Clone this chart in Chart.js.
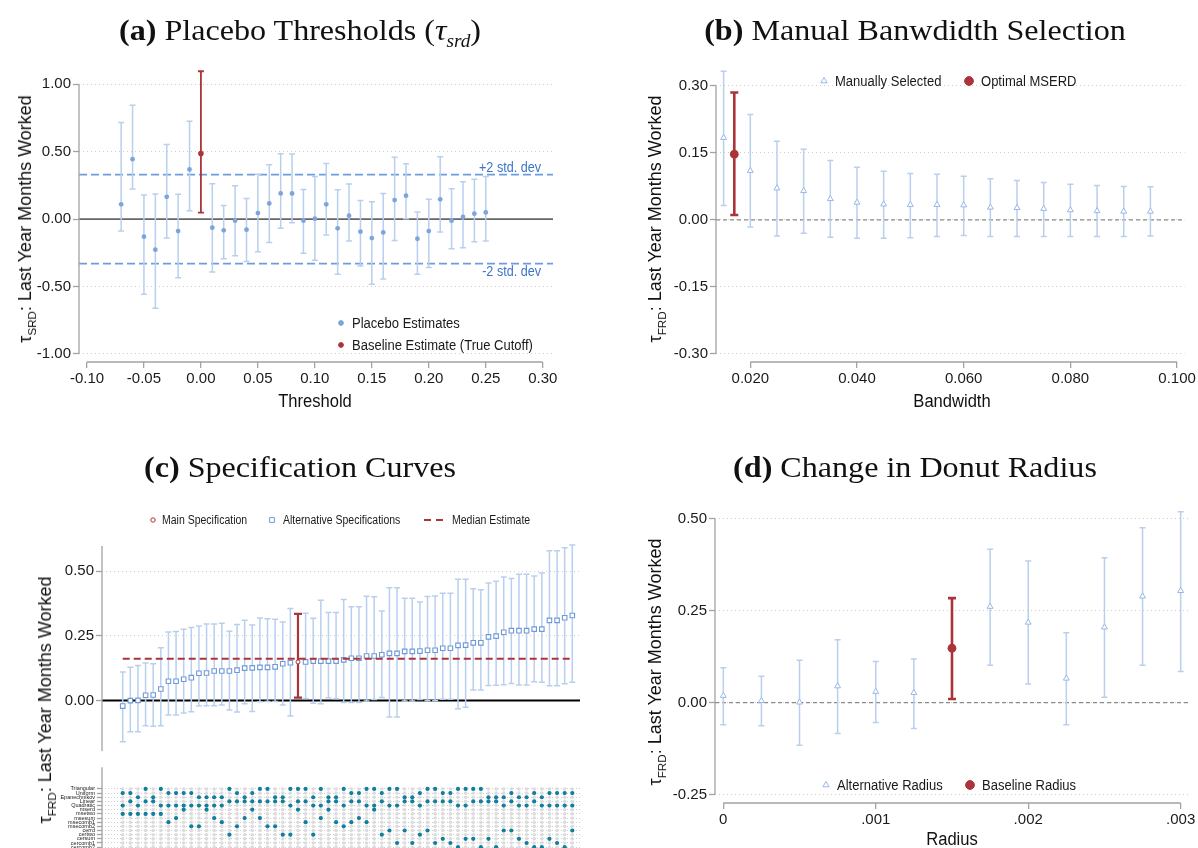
<!DOCTYPE html>
<html lang="en">
<head>
<meta charset="UTF-8">
<title>RD robustness checks</title>
<script src="https://cdn.jsdelivr.net/npm/chart.js"></script>
<style>
  body { margin: 0; background: #fff; }
  #page { position: relative; width: 1198px; height: 848px; overflow: hidden; }
  canvas { position: absolute; }
  .ttl { position: absolute; width: 600px; margin-left: -300px; text-align: center; white-space: nowrap; z-index: 2;
         font-family: "Liberation Serif", "DejaVu Serif", serif; font-size: 30px; line-height: 36px; color: #111;
         transform: scaleX(1.07); }
  .ttl sub { font-size: 0.6em; line-height: 0; }
  .axt { position: absolute; white-space: nowrap; z-index: 2; color: #111;
         font-family: "Liberation Sans", Arial, sans-serif; font-size: 18px; line-height: 22px;
         transform: translate(-50%, -50%) scaleX(0.92); }
  .axt.rot { transform: translate(-50%, -50%) rotate(-90deg); }
  .axt sub { font-size: 0.65em; line-height: 0; }
</style>
</head>
<body>
<div id="page">
  <div class="ttl" style="left:300px;top:12px"><b>(a)</b> Placebo Thresholds (<i>τ<sub>srd</sub></i>)</div>
  <div class="ttl" style="left:915px;top:12px"><b>(b)</b> Manual Banwdidth Selection</div>
  <div class="ttl" style="left:300px;top:449px"><b>(c)</b> Specification Curves</div>
  <div class="ttl" style="left:915px;top:449px"><b>(d)</b> Change in Donut Radius</div>

  <div class="axt" style="left:315px;top:401px">Threshold</div>
  <div class="axt" style="left:952px;top:401px">Bandwidth</div>
  <div class="axt" style="left:952px;top:839px">Radius</div>
  <div class="axt rot" style="left:25px;top:219px">τ<sub>SRD</sub>: Last Year Months Worked</div>
  <div class="axt rot" style="left:655px;top:219px">τ<sub>FRD</sub>: Last Year Months Worked</div>
  <div class="axt rot" style="left:45px;top:700px">τ<sub>FRD</sub>: Last Year Months Worked</div>
  <div class="axt rot" style="left:655px;top:662px">τ<sub>FRD</sub>: Last Year Months Worked</div>

  <canvas id="cA" width="600" height="424" style="left:0;top:0"></canvas>
  <canvas id="cB" width="598" height="424" style="left:600px;top:0"></canvas>
  <canvas id="cC" width="600" height="338" style="left:0;top:424px"></canvas>
  <canvas id="cM" width="600" height="110" style="left:0;top:762px"></canvas>
  <canvas id="cD" width="598" height="424" style="left:600px;top:424px"></canvas>
</div>
<script>
// ---- (a) placebo thresholds ----
const placeboX = [-0.07, -0.06, -0.05, -0.04, -0.03, -0.02, -0.01, 0.01, 0.02, 0.03, 0.04, 0.05, 0.06, 0.07, 0.08,
                  0.09, 0.10, 0.11, 0.12, 0.13, 0.14, 0.15, 0.16, 0.17, 0.18, 0.19, 0.20, 0.21, 0.22, 0.23, 0.24, 0.25];
const placeboEst = [0.109, 0.444, -0.131, -0.227, 0.165, -0.089, 0.368, -0.064, -0.084, -0.012, -0.079, 0.044, 0.116, 0.190, 0.190,
                    -0.012, 0.003, 0.109, -0.069, 0.025, -0.094, -0.141, -0.099, 0.141, 0.173, -0.146, -0.089, 0.146, -0.012, 0.015, 0.040, 0.049];
const placeboLo = [-0.089, 0.222, -0.558, -0.662, -0.141, -0.435, 0.062, -0.393, -0.294, -0.272, -0.314, -0.242, -0.173, -0.069, -0.027,
                   -0.254, -0.306, -0.119, -0.410, -0.163, -0.348, -0.484, -0.444, -0.160, 0.003, -0.410, -0.360, -0.096, -0.220, -0.212, -0.168, -0.163];
const placeboHi = [0.716, 0.844, 0.178, 0.185, 0.553, 0.183, 0.726, 0.261, 0.101, 0.247, 0.153, 0.333, 0.402, 0.484, 0.483,
                   0.220, 0.316, 0.412, 0.217, 0.259, 0.138, 0.128, 0.190, 0.459, 0.410, 0.052, 0.146, 0.462, 0.225, 0.277, 0.296, 0.316];
const trueCutoff = { x: 0.00, est: 0.486, lo: 0.047, hi: 1.096 };
const sdBand = 0.33;
const xTicksA = [-0.10, -0.05, 0.00, 0.05, 0.10, 0.15, 0.20, 0.25, 0.30];
const yTicksA = [-1.00, -0.50, 0.00, 0.50, 1.00];

// ---- (b) manual bandwidth ----
const bandwidth = [0.015, 0.020, 0.025, 0.030, 0.035, 0.040, 0.045, 0.050, 0.055, 0.060, 0.065, 0.070, 0.075, 0.080, 0.085, 0.090, 0.095];
const bwEst = [0.184, 0.110, 0.071, 0.065, 0.047, 0.039, 0.035, 0.034, 0.034, 0.033, 0.028, 0.027, 0.025, 0.022, 0.020, 0.019, 0.019];
const bwLo = [0.032, -0.016, -0.036, -0.030, -0.039, -0.041, -0.041, -0.040, -0.037, -0.035, -0.037, -0.037, -0.037, -0.037, -0.037, -0.037, -0.036];
const bwHi = [0.333, 0.236, 0.176, 0.158, 0.133, 0.118, 0.109, 0.104, 0.102, 0.098, 0.092, 0.088, 0.084, 0.080, 0.077, 0.075, 0.074];
const optimalBw = { x: 0.017, est: 0.147, lo: 0.011, hi: 0.285 };
const xTicksB = [0.020, 0.040, 0.060, 0.080, 0.100];
const yTicksB = [-0.30, -0.15, 0.00, 0.15, 0.30];

// ---- (c) specification curve ----
const specEst = [-0.022, -0.001, 0.000, 0.020, 0.021, 0.044, 0.074, 0.074, 0.082, 0.088,
                 0.105, 0.106, 0.114, 0.114, 0.114, 0.117, 0.125, 0.126, 0.128, 0.128,
                 0.130, 0.142, 0.146, 0.149, 0.149, 0.152, 0.152, 0.152, 0.152, 0.157,
                 0.163, 0.163, 0.172, 0.172, 0.177, 0.182, 0.182, 0.190, 0.190, 0.191,
                 0.194, 0.194, 0.202, 0.202, 0.213, 0.214, 0.223, 0.223, 0.246, 0.249,
                 0.264, 0.270, 0.270, 0.270, 0.276, 0.276, 0.310, 0.310, 0.320, 0.329];
const specLo = [-0.160, -0.121, -0.121, -0.098, -0.100, -0.098, -0.057, -0.057, -0.049, -0.044,
                -0.022, -0.021, -0.021, -0.018, -0.037, -0.045, -0.013, -0.043, -0.005, -0.004,
                -0.004, -0.018, -0.060, 0.011, 0.007, -0.011, -0.013, 0.010, 0.006, -0.008,
                -0.008, -0.008, -0.002, 0.003, 0.011, -0.064, -0.064, -0.002, -0.002, 0.003,
                -0.001, -0.001, 0.004, 0.004, -0.032, -0.027, 0.040, 0.040, 0.058, 0.059,
                0.061, 0.065, 0.060, 0.060, 0.072, 0.070, 0.057, 0.057, 0.064, 0.070];
const specHi = [0.110, 0.128, 0.135, 0.145, 0.142, 0.204, 0.265, 0.267, 0.276, 0.282,
                0.288, 0.296, 0.296, 0.299, 0.268, 0.294, 0.310, 0.292, 0.319, 0.316,
                0.314, 0.304, 0.356, 0.335, 0.338, 0.318, 0.388, 0.340, 0.340, 0.391,
                0.363, 0.363, 0.403, 0.401, 0.346, 0.436, 0.436, 0.396, 0.396, 0.381,
                0.402, 0.404, 0.415, 0.415, 0.469, 0.469, 0.432, 0.429, 0.455, 0.461,
                0.478, 0.472, 0.489, 0.489, 0.482, 0.493, 0.580, 0.580, 0.591, 0.602];
const mainSpec = 23;
const medianEst = 0.161;
const yTicksC = [0.00, 0.25, 0.50];

// specification choices (one column per spec)
const specRows = ['Triangular', 'Uniform', 'Epanechnikov', 'Linear', 'Quadratic', 'mserd', 'msetwo', 'msesum',
                  'msecomb1', 'msecomb2', 'cerrd', 'certwo', 'cersum', 'cercomb1', 'cercomb2'];
const specKernel = 'UUETETUUUUEEEETUEUTTEETTTETEETUUTTUTTEEUTTUUTTTTEEEUEEUEUUUU'.split('');
const specPoly = 'QLQLLQQQQQQQQQLLLLLLLLQLLQQLLQLLQQLQQLLQLLLLQQLLLLQLQQLQQQQQ'.split('');
const specBw = ['msetwo', 'msetwo', 'msetwo', 'msetwo', 'msetwo', 'msetwo', 'msecomb1', 'msesum', 'mserd', 'msecomb2',
                'msecomb2', 'mserd', 'msesum', 'msecomb1', 'certwo', 'msecomb2', 'msesum', 'mserd', 'msesum', 'msecomb2',
                'msecomb2', 'certwo', 'certwo', 'mserd', 'msecomb1', 'certwo', 'msesum', 'mserd', 'msecomb1', 'msecomb2',
                'msecomb1', 'msesum', 'msecomb1', 'mserd', 'certwo', 'cerrd', 'cercomb1', 'cerrd', 'cercomb1', 'certwo',
                'cerrd', 'cercomb1', 'cersum', 'cercomb1', 'cercomb2', 'cersum', 'cersum', 'cercomb2', 'cersum', 'cercomb2',
                'cerrd', 'cerrd', 'cersum', 'cercomb1', 'cercomb2', 'cercomb2', 'cersum', 'cercomb1', 'cercomb2', 'cerrd'];
const kernelName = { T: 'Triangular', U: 'Uniform', E: 'Epanechnikov' };
const polyName = { L: 'Linear', Q: 'Quadratic' };

// ---- (d) donut radius ----
const radius = [0, 0.00025, 0.0005, 0.00075, 0.001, 0.00125, 0.00175, 0.002, 0.00225, 0.0025, 0.00275, 0.003];
const radEst = [0.019, 0.005, 0.001, 0.045, 0.030, 0.027, 0.261, 0.218, 0.066, 0.205, 0.289, 0.304];
const radLo = [-0.060, -0.063, -0.116, -0.084, -0.054, -0.070, 0.102, 0.051, -0.060, 0.015, 0.102, 0.085];
const radHi = [0.095, 0.072, 0.115, 0.171, 0.112, 0.119, 0.417, 0.385, 0.190, 0.394, 0.475, 0.519];
const baseRadius = { x: 0.0015, est: 0.148, lo: 0.010, hi: 0.284 };
const xTicksD = [0, 0.001, 0.002, 0.003];
const yTicksD = [-0.25, 0.00, 0.25, 0.50];

// ---- styling ----
const FONT = '"Liberation Sans", Arial, sans-serif';
const INK = '#1a1a1a';
const AXIS = '#a3a3a3';
const GRID = '#cfcfcf';
const RED = '#ab343a';
const CI_BLUE = '#b9cfee';
const PT_BLUE = '#7ea5da';
const TRI_BLUE = '#98b8e6';
const TEAL = '#127e9e';
const NARROW = 0.84;   // squeeze factor to mimic the condensed legend face

Chart.defaults.font.family = FONT;
Chart.defaults.color = INK;
Chart.defaults.animation = false;
Chart.defaults.plugins.legend.display = false;
Chart.defaults.plugins.tooltip.enabled = false;

const fmt2 = v => (Math.abs(v) < 1e-9 ? 0 : v).toFixed(2);
const fmt3 = v => (Math.abs(v) < 1e-9 ? 0 : v).toFixed(3);
const fmtD = v => (Math.abs(v) < 1e-9 ? '0' : v.toFixed(3).replace(/^0/, ''));

function pts(xs, ys) { return xs.map((x, i) => ({ x: x, y: ys[i] })); }
function fixedTicks(values) { return s => { s.ticks = values.map(v => ({ value: v })); }; }
function hline(v, x0, x1, color, width, dash, order) {
  return { data: [{ x: x0, y: v }, { x: x1, y: v }], showLine: true, borderColor: color, borderWidth: width,
           borderDash: dash, pointRadius: 0, order: order };
}

function axes(o) {
  return {
    x: {
      type: 'linear', min: o.xMin, max: o.xMax, display: o.xShow !== false,
      afterBuildTicks: o.xTicks ? fixedTicks(o.xTicks) : undefined,
      afterFit: s => { s.height = o.xH || 0; },
      ticks: { callback: o.xFmt, font: { size: 15 }, color: INK, padding: 2, maxRotation: 0, autoSkip: false },
      grid: { drawOnChartArea: false, tickLength: 6, tickColor: AXIS, lineWidth: 1.3 },
      border: { display: false }
    },
    y: {
      type: 'linear', min: o.yMin, max: o.yMax, reverse: !!o.yRev,
      afterBuildTicks: fixedTicks(o.yTicks),
      afterFit: s => { s.width = o.yW; },
      ticks: { callback: o.yFmt, font: { size: o.yFont || 15 }, color: INK, padding: o.yPad || 2, autoSkip: false },
      grid: { color: GRID, lineWidth: 1, tickLength: o.yTick || 6, tickColor: AXIS, tickWidth: 1.3, tickBorderDash: [] },
      border: { display: false, dash: o.yDash || [1, 3] }
    }
  };
}

// error bars drawn just under the points of their own dataset
const errorBars = {
  id: 'errorBars',
  beforeDatasetDraw(chart, args) {
    const ds = chart.data.datasets[args.index];
    if (!ds.errLo) return;
    const { ctx, scales: { x, y } } = chart;
    ctx.save();
    ctx.strokeStyle = ds.errColor;
    ctx.lineWidth = ds.errWidth;
    ds.data.forEach((p, i) => {
      const px = x.getPixelForValue(p.x);
      const y0 = y.getPixelForValue(ds.errLo[i]);
      const y1 = y.getPixelForValue(ds.errHi[i]);
      ctx.beginPath();
      ctx.moveTo(px, y0); ctx.lineTo(px, y1);
      ctx.moveTo(px - ds.capW, y0); ctx.lineTo(px + ds.capW, y0);
      ctx.moveTo(px - ds.capW, y1); ctx.lineTo(px + ds.capW, y1);
      ctx.stroke();
    });
    ctx.restore();
  }
};

// stata-style axis lines that only span the tick range
function axisLines(cfg) {
  return {
    id: 'axisLines',
    afterDraw(chart) {
      const { ctx, chartArea: a, scales } = chart;
      ctx.save();
      ctx.strokeStyle = AXIS;
      ctx.lineWidth = 1.3;
      ctx.beginPath();
      if (cfg.yFull) {
        ctx.moveTo(a.left, a.top); ctx.lineTo(a.left, a.bottom);
      } else {
        const v = scales.y.ticks.map(t => t.value);
        ctx.moveTo(a.left, scales.y.getPixelForValue(Math.max(...v)));
        ctx.lineTo(a.left, scales.y.getPixelForValue(Math.min(...v)));
      }
      if (cfg.x) {
        const v = scales.x.ticks.map(t => t.value);
        ctx.moveTo(scales.x.getPixelForValue(Math.min(...v)), a.bottom);
        ctx.lineTo(scales.x.getPixelForValue(Math.max(...v)), a.bottom);
      }
      ctx.stroke();
      ctx.restore();
    }
  };
}

function drawMark(ctx, m, x, y) {
  ctx.save();
  ctx.lineWidth = m.lw || 1;
  ctx.strokeStyle = m.color;
  ctx.fillStyle = m.fill || m.color;
  ctx.beginPath();
  if (m.shape === 'circle') {
    ctx.arc(x, y, m.r, 0, Math.PI * 2);
  } else if (m.shape === 'triangle') {
    ctx.moveTo(x, y - m.r);
    ctx.lineTo(x + m.r * 0.87, y + m.r * 0.5);
    ctx.lineTo(x - m.r * 0.87, y + m.r * 0.5);
    ctx.closePath();
  } else if (m.shape === 'square') {
    ctx.rect(x - m.r, y - m.r, 2 * m.r, 2 * m.r);
  } else if (m.shape === 'dash') {
    ctx.setLineDash(m.dash);
    ctx.moveTo(x - m.r, y); ctx.lineTo(x + m.r, y);
  }
  if (m.shape !== 'dash') ctx.fill();
  ctx.stroke();
  ctx.restore();
}

function narrowText(ctx, text, x, y) {
  ctx.save();
  ctx.translate(x, y);
  ctx.scale(NARROW, 1);
  ctx.fillText(text, 0, 0);
  ctx.restore();
}

function keyPlugin(items, size) {
  return {
    id: 'key',
    afterDraw(chart) {
      const ctx = chart.ctx;
      ctx.save();
      ctx.font = size + 'px ' + FONT;
      ctx.textBaseline = 'middle';
      items.forEach(it => {
        drawMark(ctx, it.mark, it.mx, it.y);
        ctx.fillStyle = INK;
        narrowText(ctx, it.text, it.tx, it.y + 0.5);
      });
      ctx.restore();
    }
  };
}

const sdLabels = {
  id: 'sdLabels',
  afterDatasetsDraw(chart) {
    const { ctx, chartArea: a, scales: { y } } = chart;
    ctx.save();
    ctx.font = '15px ' + FONT;
    ctx.fillStyle = '#3d76c8';
    ctx.textAlign = 'right';
    ctx.textBaseline = 'middle';
    narrowText(ctx, '+2 std. dev', a.right - 12, y.getPixelForValue(sdBand) - 7);
    narrowText(ctx, '-2 std. dev', a.right - 12, y.getPixelForValue(-sdBand) + 8);
    ctx.restore();
  }
};

const base = { responsive: false, maintainAspectRatio: false, animation: false, events: [] };

// ---------- panel (a) ----------
const aX = [-0.107, 0.309];
new Chart(document.getElementById('cA'), {
  type: 'scatter',
  data: { datasets: [
    { data: [{ x: trueCutoff.x, y: trueCutoff.est }], errLo: [trueCutoff.lo], errHi: [trueCutoff.hi],
      errColor: RED, errWidth: 1.8, capW: 3, pointRadius: 2.8, pointBackgroundColor: RED, pointBorderWidth: 0, order: 0 },
    { data: pts(placeboX, placeboEst), errLo: placeboLo, errHi: placeboHi, errColor: CI_BLUE, errWidth: 1.5, capW: 3,
      pointRadius: 2.4, pointBackgroundColor: PT_BLUE, pointBorderWidth: 0, order: 1 },
    hline(0, aX[0], aX[1], '#666666', 1.8, [], 2),
    hline(sdBand, aX[0], aX[1], '#6c9de0', 1.8, [8, 4], 3),
    hline(-sdBand, aX[0], aX[1], '#6c9de0', 1.8, [8, 4], 3)
  ] },
  options: Object.assign({}, base, {
    layout: { padding: { top: 68, right: 47, left: 0, bottom: 0 } },
    scales: axes({ xMin: aX[0], xMax: aX[1], xTicks: xTicksA, xFmt: fmt2, xH: 62,
                   yMin: -1.06, yMax: 1.12, yTicks: yTicksA, yFmt: fmt2, yW: 79 })
  }),
  plugins: [errorBars, sdLabels, axisLines({ x: true }), keyPlugin([
    { mark: { shape: 'circle', r: 2.4, color: PT_BLUE }, mx: 341, tx: 352, y: 323, text: 'Placebo Estimates' },
    { mark: { shape: 'circle', r: 2.4, color: RED }, mx: 341, tx: 352, y: 345, text: 'Baseline Estimate (True Cutoff)' }
  ], 15.5)]
});

// ---------- panel (b) ----------
const bX = [0.01357, 0.10138];
new Chart(document.getElementById('cB'), {
  type: 'scatter',
  data: { datasets: [
    { data: [{ x: optimalBw.x, y: optimalBw.est }], errLo: [optimalBw.lo], errHi: [optimalBw.hi],
      errColor: RED, errWidth: 2.6, capW: 4, pointRadius: 4.4, pointBackgroundColor: RED, pointBorderWidth: 0, order: 0 },
    { data: pts(bandwidth, bwEst), errLo: bwLo, errHi: bwHi, errColor: CI_BLUE, errWidth: 1.5, capW: 3,
      pointStyle: 'triangle', pointRadius: 3.4, pointBackgroundColor: '#ffffff', pointBorderColor: TRI_BLUE,
      pointBorderWidth: 1, order: 1 },
    hline(0, bX[0], bX[1], '#8a8a8a', 1.3, [4, 3], 2)
  ] },
  options: Object.assign({}, base, {
    layout: { padding: { top: 68, right: 10, left: 0, bottom: 0 } },
    scales: axes({ xMin: bX[0], xMax: bX[1], xTicks: xTicksB, xFmt: fmt3, xH: 62,
                   yMin: -0.318, yMax: 0.340, yTicks: yTicksB, yFmt: fmt2, yW: 116 })
  }),
  plugins: [errorBars, axisLines({ x: true }), keyPlugin([
    { mark: { shape: 'triangle', r: 3.6, color: TRI_BLUE, fill: '#ffffff' }, mx: 224, tx: 235, y: 81, text: 'Manually Selected' },
    { mark: { shape: 'circle', r: 4.4, color: RED }, mx: 369, tx: 381, y: 81, text: 'Optimal MSERD' }
  ], 15.5)]
});

// ---------- panel (c) top: estimates ----------
const specIdx = specEst.map((v, i) => i);
const altIdx = specIdx.filter(i => i !== mainSpec);
const cX = [-2.72, 60.01];
new Chart(document.getElementById('cC'), {
  type: 'scatter',
  data: { datasets: [
    { data: [{ x: mainSpec, y: specEst[mainSpec] }], errLo: [specLo[mainSpec]], errHi: [specHi[mainSpec]],
      errColor: RED, errWidth: 2.2, capW: 4, pointRadius: 2, pointBackgroundColor: '#ffffff', pointBorderColor: RED,
      pointBorderWidth: 1, order: 0 },
    hline(medianEst, 0, specEst.length - 1, RED, 2, [7, 4], 1),
    { data: altIdx.map(i => ({ x: i, y: specEst[i] })), errLo: altIdx.map(i => specLo[i]), errHi: altIdx.map(i => specHi[i]),
      errColor: CI_BLUE, errWidth: 1.5, capW: 3, pointStyle: 'rect', pointRadius: 3.2, pointBackgroundColor: '#ffffff',
      pointBorderColor: '#6e99d6', pointBorderWidth: 1.1, order: 2 },
    hline(0, cX[0], cX[1], '#000000', 2, [], 3)
  ] },
  options: Object.assign({}, base, {
    layout: { padding: { top: 122, right: 20, left: 0, bottom: 0 } },
    scales: axes({ xMin: cX[0], xMax: cX[1], xShow: false,
                   yMin: -0.196, yMax: 0.598, yTicks: yTicksC, yFmt: fmt2, yW: 102 })
  }),
  plugins: [errorBars, axisLines({ yFull: true }), keyPlugin([
    { mark: { shape: 'circle', r: 2.2, color: RED, fill: '#ffffff' }, mx: 153, tx: 162, y: 96, text: 'Main Specification' },
    { mark: { shape: 'square', r: 2.4, color: '#6e99d6', fill: '#ffffff' }, mx: 272, tx: 283, y: 96, text: 'Alternative Specifications' },
    { mark: { shape: 'dash', r: 10, color: RED, lw: 2, dash: [7, 5] }, mx: 434, tx: 452, y: 96, text: 'Median Estimate' }
  ], 12.5)]
});

// ---------- panel (c) bottom: specification matrix ----------
const gridCells = [];
specRows.forEach((r, k) => specIdx.forEach(i => gridCells.push({ x: i, y: k })));
const chosen = [];
specIdx.forEach(i => {
  chosen.push({ x: i, y: specRows.indexOf(kernelName[specKernel[i]]) });
  chosen.push({ x: i, y: specRows.indexOf(polyName[specPoly[i]]) });
  chosen.push({ x: i, y: specRows.indexOf(specBw[i]) });
});
new Chart(document.getElementById('cM'), {
  type: 'scatter',
  data: { datasets: [
    { data: chosen, pointRadius: 2.1, pointBackgroundColor: TEAL, pointBorderWidth: 0, order: 0 },
    { data: gridCells, pointRadius: 1.8, pointBackgroundColor: '#dcdcdc', pointBorderWidth: 0, order: 1 }
  ] },
  options: Object.assign({}, base, {
    layout: { padding: { top: 0, right: 20, left: 0, bottom: 0 } },
    scales: axes({ xMin: cX[0], xMax: cX[1], xShow: false,
                   yMin: -5.2, yMax: 18.7, yRev: true, yTicks: specRows.map((r, k) => k),
                   yFmt: v => specRows[v], yFont: 5.5, yW: 102, yTick: 5, yPad: 2, yDash: [1, 2] })
  }),
  plugins: [axisLines({ yFull: true })]
});

// ---------- panel (d) ----------
const dX = [-0.0000544, 0.003048];
new Chart(document.getElementById('cD'), {
  type: 'scatter',
  data: { datasets: [
    { data: [{ x: baseRadius.x, y: baseRadius.est }], errLo: [baseRadius.lo], errHi: [baseRadius.hi],
      errColor: RED, errWidth: 2.6, capW: 4, pointRadius: 4.4, pointBackgroundColor: RED, pointBorderWidth: 0, order: 0 },
    { data: pts(radius, radEst), errLo: radLo, errHi: radHi, errColor: CI_BLUE, errWidth: 1.5, capW: 3,
      pointStyle: 'triangle', pointRadius: 3.4, pointBackgroundColor: '#ffffff', pointBorderColor: TRI_BLUE,
      pointBorderWidth: 1, order: 1 },
    hline(0, dX[0], dX[1], '#8a8a8a', 1.3, [4, 3], 2)
  ] },
  options: Object.assign({}, base, {
    layout: { padding: { top: 84, right: 10, left: 0, bottom: 0 } },
    scales: axes({ xMin: dX[0], xMax: dX[1], xTicks: xTicksD, xFmt: fmtD, xH: 45,
                   yMin: -0.2726, yMax: 0.529, yTicks: yTicksD, yFmt: fmt2, yW: 115 })
  }),
  plugins: [errorBars, axisLines({ x: true }), keyPlugin([
    { mark: { shape: 'triangle', r: 3.6, color: TRI_BLUE, fill: '#ffffff' }, mx: 226, tx: 237, y: 361, text: 'Alternative Radius' },
    { mark: { shape: 'circle', r: 4.4, color: RED }, mx: 370, tx: 382, y: 361, text: 'Baseline Radius' }
  ], 15.5)]
});
</script>
</body>
</html>
